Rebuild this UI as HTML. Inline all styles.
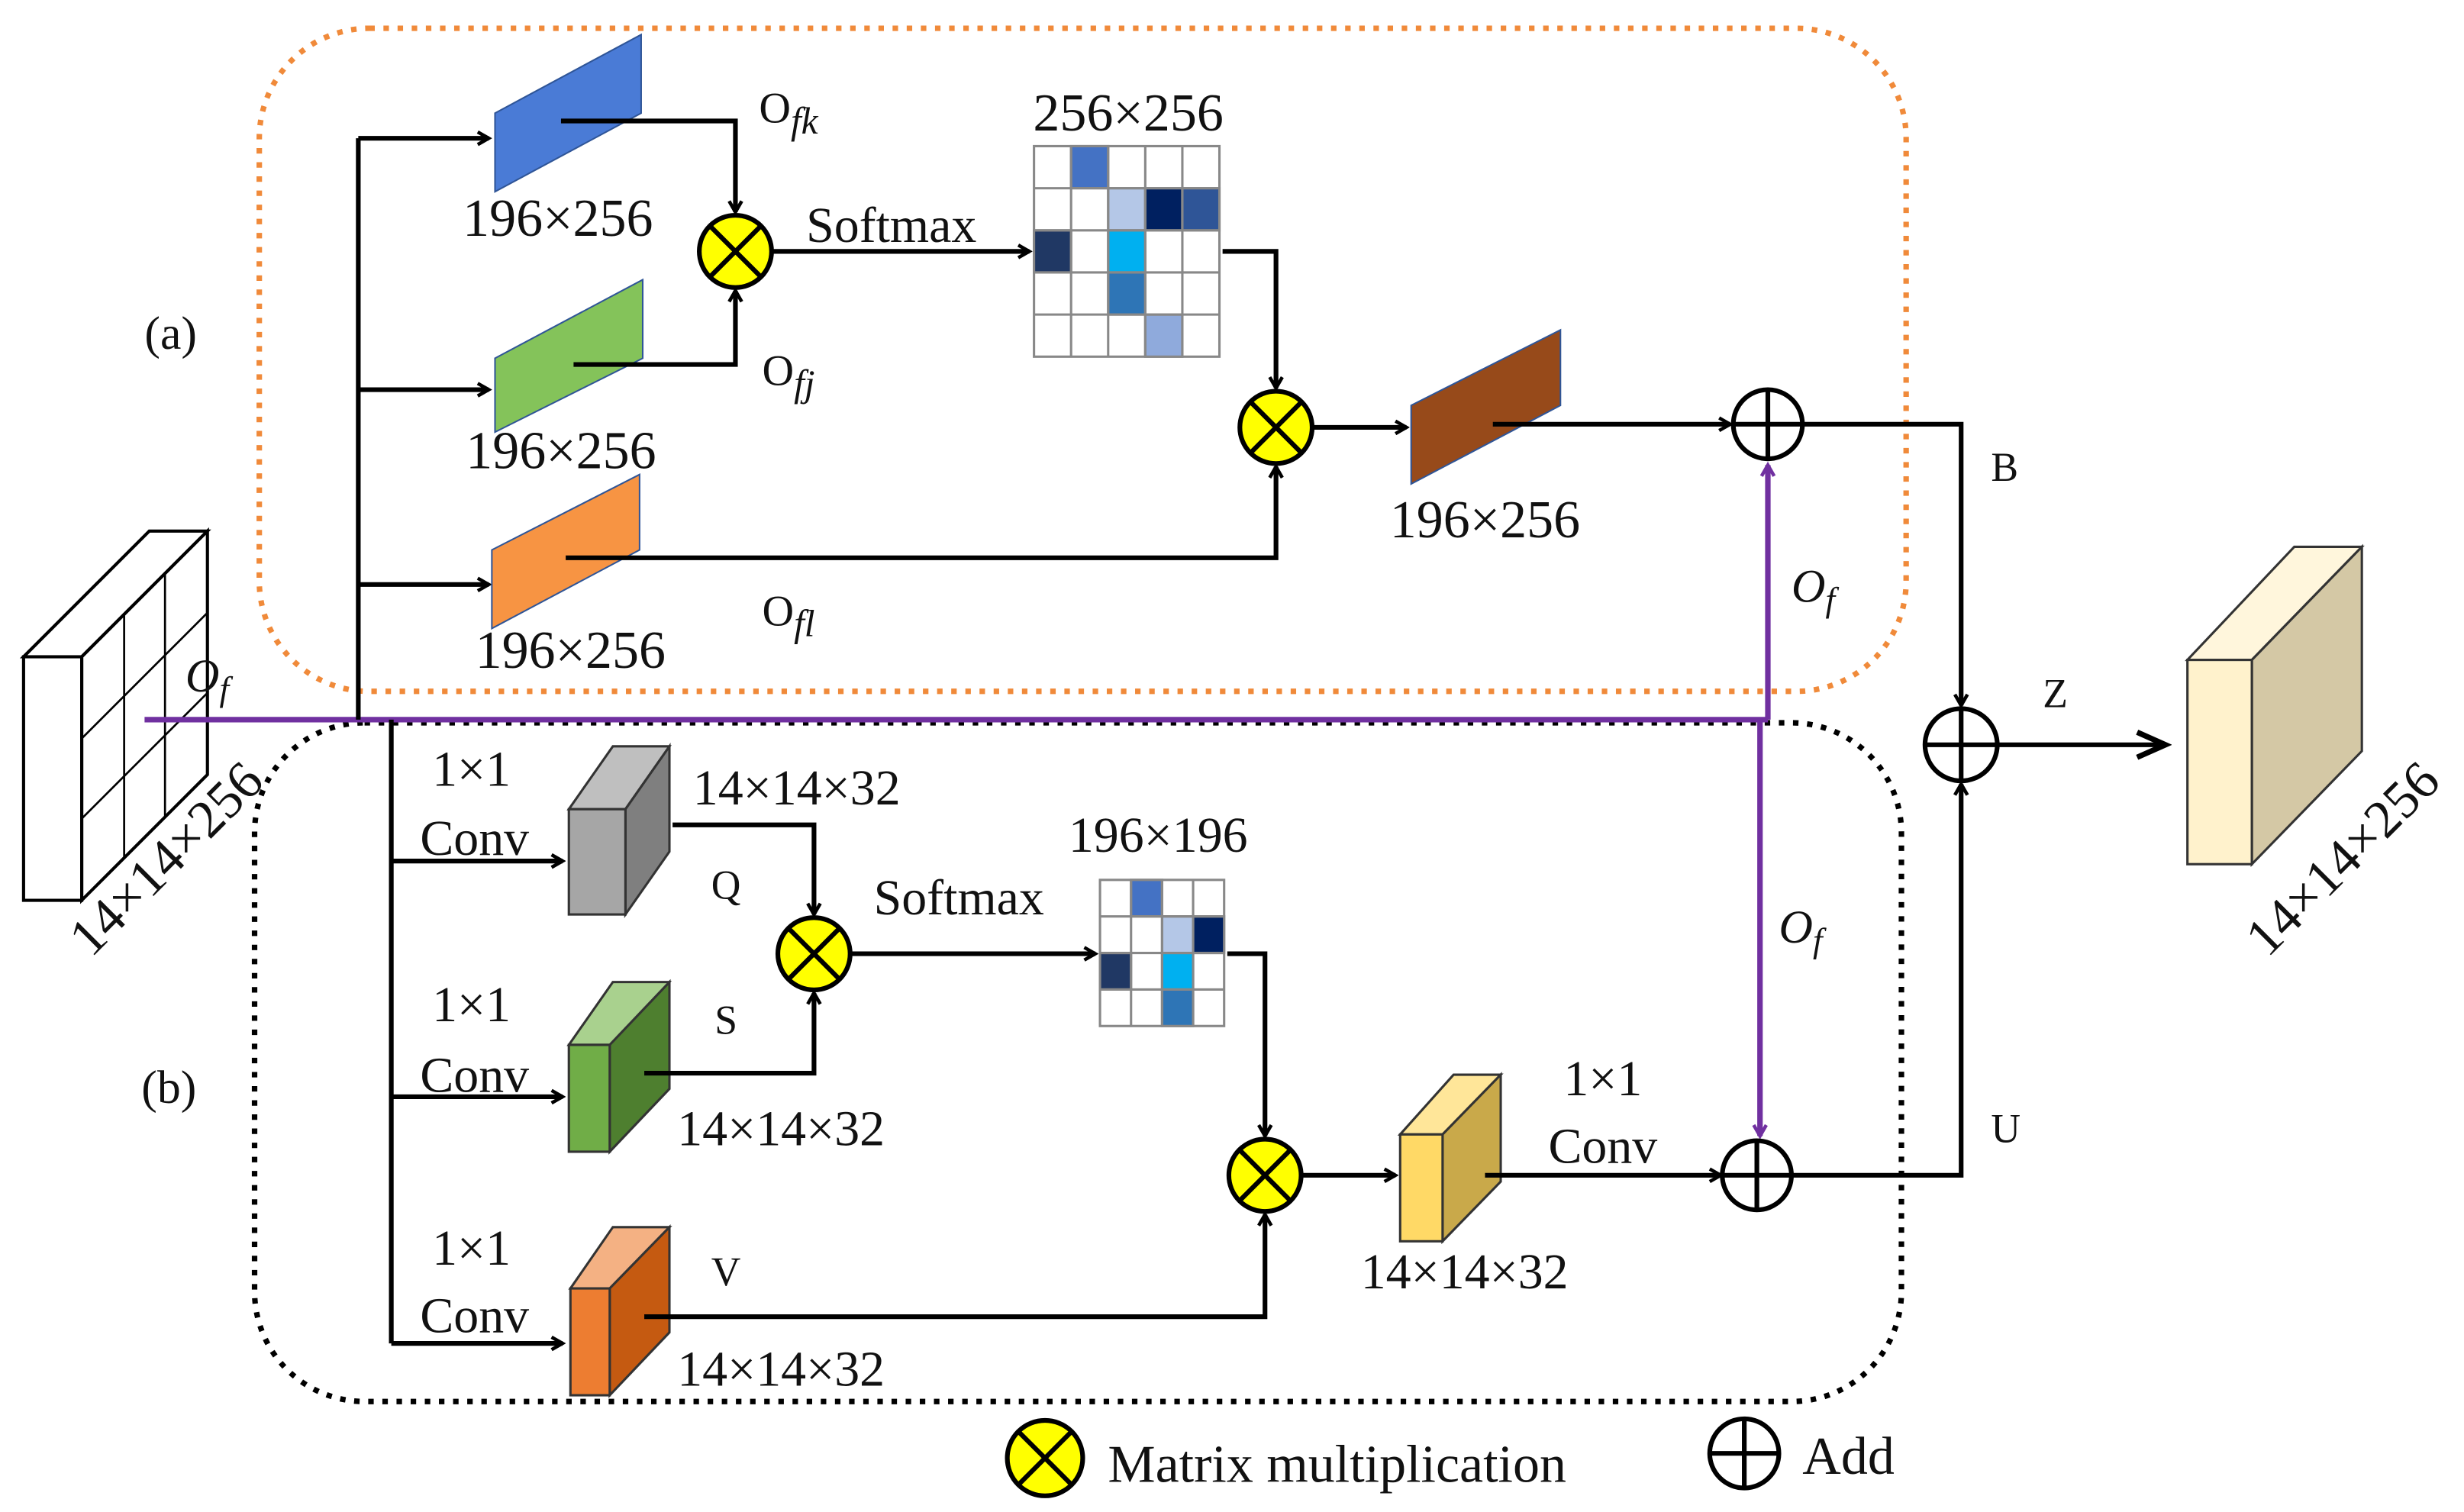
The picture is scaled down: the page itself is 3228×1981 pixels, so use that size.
<!DOCTYPE html>
<html><head><meta charset="utf-8"><style>
html,body{margin:0;padding:0;background:#fff;}
svg{display:block;font-family:"Liberation Serif","DejaVu Serif",serif;}
svg text{font-family:"Liberation Serif","DejaVu Serif",serif;fill:#111;}
</style></head><body>
<svg width="3228" height="1981" viewBox="0 0 1568 962.3" preserveAspectRatio="none" xmlns="http://www.w3.org/2000/svg" font-family="Liberation Serif, DejaVu Serif, serif">
<defs>
<marker id="ah" markerWidth="10" markerHeight="10" refX="8" refY="5" orient="auto" markerUnits="userSpaceOnUse" viewBox="0 0 10 10">
<path d="M1,1 L8,5 L1,9" fill="none" stroke="#000" stroke-width="2.2"/></marker>
<marker id="ap" markerWidth="10" markerHeight="10" refX="8" refY="5" orient="auto" markerUnits="userSpaceOnUse" viewBox="0 0 10 10">
<path d="M1,1 L8,5 L1,9" fill="none" stroke="#7030a0" stroke-width="2.2"/></marker>
<marker id="big" markerWidth="24" markerHeight="20" refX="20" refY="10" orient="auto" markerUnits="userSpaceOnUse" viewBox="0 0 24 20">
<path d="M2,2 L20,10 L2,18" fill="none" stroke="#000" stroke-width="3.5"/></marker>
</defs>

<rect x="165" y="18" width="1048" height="422" rx="70" fill="none" stroke="#f08a3a" stroke-width="3.5" stroke-dasharray="3.5 5.5"/>
<rect x="162" y="460" width="1048" height="432" rx="70" fill="none" stroke="#000" stroke-width="3.5" stroke-dasharray="3.5 5.5"/>

<g stroke="#000" stroke-width="2" fill="#fff">
<path d="M15,418 L95,338 L132,338 L52,418 Z"/>
<path d="M52,418 L132,338 L132,493 L52,573 Z"/>
<rect x="15" y="418" width="37" height="155"/>
<g stroke-width="1.3" fill="none">
<line x1="79" y1="391" x2="79" y2="546"/><line x1="105" y1="365" x2="105" y2="520"/>
<line x1="52" y1="470" x2="132" y2="390"/><line x1="52" y1="521" x2="132" y2="441"/>
</g></g>
<text x="118" y="440" font-size="30" font-style="italic">O<tspan font-size="22" dy="6">f</tspan></text>
<text x="0" y="0" font-size="34" transform="translate(58,610) rotate(-45)">14×14×256</text>

<g stroke="#7030a0" stroke-width="3.5" fill="none">
<line x1="92" y1="458" x2="1125" y2="458"/>
<line x1="1125" y1="458" x2="1125" y2="296" marker-end="url(#ap)"/>
<line x1="1120" y1="458" x2="1120" y2="723" marker-end="url(#ap)"/>
</g>
<text x="1140" y="383" font-size="30" font-style="italic">O<tspan font-size="22" dy="6">f</tspan></text>
<text x="1132" y="600" font-size="30" font-style="italic">O<tspan font-size="22" dy="6">f</tspan></text>

<g stroke="#000" stroke-width="3" fill="none">
<line x1="228" y1="458" x2="228" y2="88"/>
<line x1="228" y1="88" x2="311" y2="88" marker-end="url(#ah)"/>
<line x1="228" y1="248" x2="311" y2="248" marker-end="url(#ah)"/>
<line x1="228" y1="372" x2="311" y2="372" marker-end="url(#ah)"/>
</g>
<path d="M315,72 L408,22 L408,72 L315,122 Z" fill="#4a7bd6" stroke="#2f5597" stroke-width="1"/>
<path d="M315,228 L409,178 L409,228 L315,275 Z" fill="#84c35a" stroke="#2f5597" stroke-width="1"/>
<path d="M313,350 L407,302 L407,350 L313,400 Z" fill="#f79443" stroke="#2f5597" stroke-width="1"/>
<path d="M898,258 L993,210 L993,258 L898,308 Z" fill="#974a1a" stroke="#2f5597" stroke-width="1"/>
<g stroke="#000" stroke-width="3" fill="none">
<polyline points="357,77 468,77 468,135" marker-end="url(#ah)"/>
<polyline points="365,232 468,232 468,185" marker-end="url(#ah)"/>
<line x1="492" y1="160" x2="655" y2="160" marker-end="url(#ah)"/>
<polyline points="778,160 812,160 812,247" marker-end="url(#ah)"/>
<polyline points="360,355 812,355 812,297" marker-end="url(#ah)"/>
<line x1="836" y1="272" x2="895" y2="272" marker-end="url(#ah)"/>
<line x1="950" y1="270" x2="1101" y2="270" marker-end="url(#ah)"/>
<polyline points="1147,270 1248,270 1248,449" marker-end="url(#ah)"/>
<line x1="1272" y1="474" x2="1378" y2="474" marker-end="url(#big)"/>
<polyline points="1141,748 1248,748 1248,499" marker-end="url(#ah)"/>
</g>
<text x="355" y="150" font-size="34" text-anchor="middle">196×256</text>
<text x="357" y="298" font-size="34" text-anchor="middle">196×256</text>
<text x="363" y="425" font-size="34" text-anchor="middle">196×256</text>
<text x="945" y="342" font-size="34" text-anchor="middle">196×256</text>
<text x="718" y="83" font-size="34" text-anchor="middle">256×256</text>
<text x="513" y="154" font-size="32">Softmax</text>
<text x="483" y="78" font-size="28">O<tspan font-size="24" font-style="italic" dy="7">fk</tspan></text>
<text x="485" y="245" font-size="28">O<tspan font-size="24" font-style="italic" dy="7">fj</tspan></text>
<text x="485" y="398" font-size="28">O<tspan font-size="24" font-style="italic" dy="7">fl</tspan></text>
<text x="92" y="222" font-size="30">(a)</text>
<text x="90" y="702" font-size="30">(b)</text>
<text x="1267" y="306" font-size="26">B</text>
<text x="1267" y="727" font-size="26">U</text>
<text x="1300" y="450" font-size="26">Z</text>

<g stroke="#888" stroke-width="1.5">
<rect x="658" y="93" width="118" height="134" fill="#fff"/>
<rect x="681.6" y="93" width="23.6" height="26.8" fill="#4472c4"/>
<rect x="705.2" y="119.8" width="23.6" height="26.8" fill="#b4c7e7"/>
<rect x="728.8" y="119.8" width="23.6" height="26.8" fill="#002060"/>
<rect x="752.4" y="119.8" width="23.6" height="26.8" fill="#2f5597"/>
<rect x="658" y="146.6" width="23.6" height="26.8" fill="#203864"/>
<rect x="705.2" y="146.6" width="23.6" height="26.8" fill="#00b0f0"/>
<rect x="705.2" y="173.4" width="23.6" height="26.8" fill="#2e75b6"/>
<rect x="728.8" y="200.2" width="23.6" height="26.8" fill="#8faadc"/>
<g fill="none"><line x1="681.6" y1="93" x2="681.6" y2="227"/><line x1="705.2" y1="93" x2="705.2" y2="227"/><line x1="728.8" y1="93" x2="728.8" y2="227"/><line x1="752.4" y1="93" x2="752.4" y2="227"/>
<line x1="658" y1="119.8" x2="776" y2="119.8"/><line x1="658" y1="146.6" x2="776" y2="146.6"/><line x1="658" y1="173.4" x2="776" y2="173.4"/><line x1="658" y1="200.2" x2="776" y2="200.2"/></g>
</g>

<g stroke="#000" stroke-width="3" fill="none">
<line x1="249" y1="458" x2="249" y2="855"/>
<line x1="249" y1="548" x2="358" y2="548" marker-end="url(#ah)"/>
<line x1="249" y1="698" x2="358" y2="698" marker-end="url(#ah)"/>
<line x1="249" y1="855" x2="358" y2="855" marker-end="url(#ah)"/>
</g>
<g stroke="#333" stroke-width="1.5">
<path d="M362,515 L390,475 L426,475 L398,515 Z" fill="#bfbfbf"/>
<path d="M398,515 L426,475 L426,542 L398,582 Z" fill="#7f7f7f"/>
<rect x="362" y="515" width="36" height="67" fill="#a6a6a6"/>
<path d="M362,665 L390,625 L426,625 L398,665 Z" fill="#a9d18e"/>
<path d="M388,665 L426,625 L426,693 L388,733 Z" fill="#4e7f2f"/>
<rect x="362" y="665" width="26" height="68" fill="#70ad47"/>
<path d="M363,820 L390,781 L426,781 L388,820 Z" fill="#f4b183"/>
<path d="M388,820 L426,781 L426,848 L388,888 Z" fill="#c55a11"/>
<rect x="363" y="820" width="25" height="68" fill="#ed7d31"/>
<path d="M891,722 L925,684 L955,684 L918,722 Z" fill="#ffe699"/>
<path d="M918,722 L955,684 L955,752 L918,790 Z" fill="#c9a94a"/>
<rect x="891" y="722" width="27" height="68" fill="#ffd966"/>
</g>
<g stroke="#000" stroke-width="3" fill="none">
<polyline points="428,525 518,525 518,582" marker-end="url(#ah)"/>
<polyline points="410,683 518,683 518,632" marker-end="url(#ah)"/>
<line x1="542" y1="607" x2="697" y2="607" marker-end="url(#ah)"/>
<polyline points="781,607 805,607 805,723" marker-end="url(#ah)"/>
<polyline points="410,838 805,838 805,773" marker-end="url(#ah)"/>
<line x1="829" y1="748" x2="888" y2="748" marker-end="url(#ah)"/>
<line x1="945" y1="748" x2="1095" y2="748" marker-end="url(#ah)"/>
</g>
<g stroke="#888" stroke-width="1.5">
<rect x="700" y="560" width="79" height="93" fill="#fff"/>
<rect x="719.75" y="560" width="19.75" height="23.25" fill="#4472c4"/>
<rect x="739.5" y="583.25" width="19.75" height="23.25" fill="#b4c7e7"/>
<rect x="759.25" y="583.25" width="19.75" height="23.25" fill="#002060"/>
<rect x="700" y="606.5" width="19.75" height="23.25" fill="#203864"/>
<rect x="739.5" y="606.5" width="19.75" height="23.25" fill="#00b0f0"/>
<rect x="739.5" y="629.75" width="19.75" height="23.25" fill="#2e75b6"/>
<g fill="none"><line x1="719.75" y1="560" x2="719.75" y2="653"/><line x1="739.5" y1="560" x2="739.5" y2="653"/><line x1="759.25" y1="560" x2="759.25" y2="653"/>
<line x1="700" y1="583.25" x2="779" y2="583.25"/><line x1="700" y1="606.5" x2="779" y2="606.5"/><line x1="700" y1="629.75" x2="779" y2="629.75"/></g>
</g>
<text x="300" y="500" font-size="32" text-anchor="middle">1×1</text>
<text x="302" y="544" font-size="32" text-anchor="middle">Conv</text>
<text x="300" y="650" font-size="32" text-anchor="middle">1×1</text>
<text x="302" y="695" font-size="32" text-anchor="middle">Conv</text>
<text x="300" y="805" font-size="32" text-anchor="middle">1×1</text>
<text x="302" y="848" font-size="32" text-anchor="middle">Conv</text>
<text x="507" y="512" font-size="32" text-anchor="middle">14×14×32</text>
<text x="497" y="729" font-size="32" text-anchor="middle">14×14×32</text>
<text x="497" y="882" font-size="32" text-anchor="middle">14×14×32</text>
<text x="932" y="820" font-size="32" text-anchor="middle">14×14×32</text>
<text x="737" y="542" font-size="32" text-anchor="middle">196×196</text>
<text x="556" y="582" font-size="32">Softmax</text>
<text x="462" y="572" font-size="26" text-anchor="middle">Q</text>
<text x="462" y="658" font-size="26" text-anchor="middle">S</text>
<text x="462" y="818" font-size="26" text-anchor="middle">V</text>
<text x="1020" y="697" font-size="32" text-anchor="middle">1×1</text>
<text x="1020" y="740" font-size="32" text-anchor="middle">Conv</text>

<g stroke="#000" stroke-width="3">
<g fill="#ffff00">
<circle cx="468" cy="160" r="23"/><circle cx="812" cy="272" r="23"/><circle cx="518" cy="607" r="23"/><circle cx="805" cy="748" r="23"/><circle cx="665" cy="928" r="24"/>
</g>
<path d="M452,144 L484,176 M484,144 L452,176 M796,256 L828,288 M828,256 L796,288 M502,591 L534,623 M534,591 L502,623 M789,732 L821,764 M821,732 L789,764 M648,911 L682,945 M682,911 L648,945" fill="none"/>
<g fill="#fff">
<circle cx="1125" cy="270" r="22"/><circle cx="1248" cy="474" r="23"/><circle cx="1118" cy="748" r="22"/><circle cx="1110" cy="925" r="22"/>
</g>
<path d="M1103,270 H1147 M1125,248 V292 M1225,474 H1271 M1248,451 V497 M1096,748 H1140 M1118,726 V770 M1088,925 H1132 M1110,903 V947" fill="none"/>
</g>
<text x="705" y="943" font-size="34">Matrix multiplication</text>
<text x="1147" y="938" font-size="34">Add</text>

<g stroke="#333" stroke-width="1.5">
<path d="M1392,420 L1460,348 L1503,348 L1433,420 Z" fill="#fff6dc"/>
<path d="M1433,420 L1503,348 L1503,478 L1433,550 Z" fill="#d4c8a5"/>
<rect x="1392" y="420" width="41" height="130" fill="#fff2cc"/>
</g>
<text x="0" y="0" font-size="34" transform="translate(1443,610) rotate(-45)">14×14×256</text>
</svg>
</body></html>
